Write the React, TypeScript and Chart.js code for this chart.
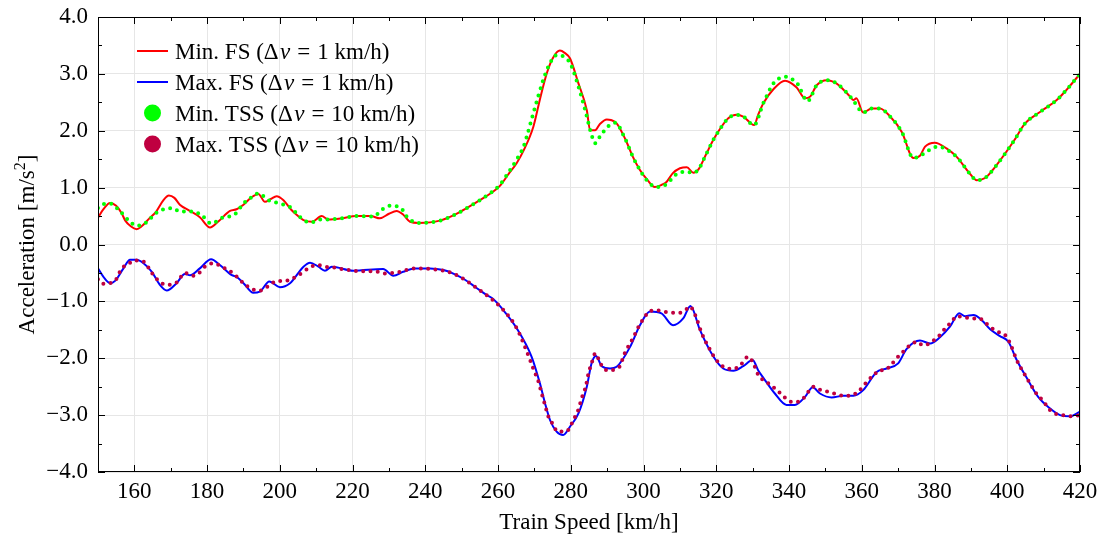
import { useEffect, useRef } from "react";
import { Chart, registerables } from "chart.js";

Chart.register(...registerables);

// Minimum feasible acceleration, fine sampling (Δv = 1 km/h)
const minFsSpeed = [150, 151.5, 153.3, 155, 156.5, 157.5, 159, 160.6, 162, 164, 166, 168, 169.5, 171, 172.5, 175, 178, 180.8, 183, 186.3, 188.1, 190, 192, 194.1, 195.9, 197.5, 199.1, 201, 203, 205, 206.5, 208.8, 211.5, 213.3, 217, 221, 225, 227.5, 230, 232.1, 234, 235.8, 238.1, 244, 248, 251.4, 255, 258, 260.5, 263, 265.1, 267, 269.7, 271.5, 273.4, 275, 277, 278.3, 279.8, 282, 284.4, 285.3, 286.7, 288, 289.9, 291, 292.6, 295, 297, 299, 301, 303.1, 305, 306.3, 308, 310, 311.9, 313.7, 315.1, 317, 319.2, 321, 323.3, 325.6, 327.4, 330.4, 331.5, 332.9, 335.7, 338.9, 342.1, 344.4, 345.8, 347.6, 350.4, 353.1, 356.8, 357.7, 358.5, 360.4, 362.7, 365, 367.8, 371, 374.2, 376, 377.4, 380.1, 383.3, 386.1, 389.8, 391.6, 393.9, 397.1, 401.7, 404.9, 409, 413.6, 416.3, 420];
const minFsAccel = [0.47, 0.62, 0.73, 0.68, 0.55, 0.42, 0.32, 0.27, 0.32, 0.45, 0.58, 0.78, 0.86, 0.82, 0.70, 0.60, 0.48, 0.30, 0.40, 0.59, 0.62, 0.70, 0.82, 0.89, 0.75, 0.80, 0.85, 0.78, 0.62, 0.50, 0.43, 0.40, 0.50, 0.44, 0.46, 0.50, 0.50, 0.46, 0.54, 0.59, 0.52, 0.40, 0.38, 0.42, 0.52, 0.64, 0.78, 0.90, 1.03, 1.25, 1.43, 1.65, 2.07, 2.55, 3.01, 3.27, 3.41, 3.37, 3.27, 2.85, 2.36, 2.01, 2.01, 2.12, 2.20, 2.19, 2.13, 1.85, 1.55, 1.31, 1.14, 1.01, 1.05, 1.10, 1.25, 1.34, 1.36, 1.26, 1.32, 1.56, 1.84, 2.03, 2.22, 2.28, 2.25, 2.10, 2.28, 2.48, 2.73, 2.88, 2.76, 2.57, 2.60, 2.80, 2.89, 2.83, 2.60, 2.54, 2.57, 2.32, 2.39, 2.39, 2.25, 1.98, 1.52, 1.56, 1.72, 1.79, 1.69, 1.54, 1.24, 1.13, 1.17, 1.40, 1.81, 2.13, 2.33, 2.54, 2.72, 3.00];

// Maximum feasible acceleration, fine sampling (Δv = 1 km/h)
const maxFsSpeed = [150, 151.5, 153.3, 154.7, 157, 158.8, 160.6, 162.5, 164.8, 167, 168.9, 171.6, 173.9, 175.3, 178, 181.1, 183.5, 186.8, 188.1, 190, 192.7, 194.5, 197.1, 200, 202.8, 206.5, 208.3, 210.6, 212.4, 214.3, 220.2, 228.4, 231.2, 233.9, 237.2, 241.3, 245, 248, 250.9, 254, 256.9, 258.5, 261, 265.1, 269.2, 271.5, 272.9, 274.3, 276.1, 277.9, 279.8, 282.1, 284.4, 285.7, 286.9, 288.5, 290.8, 292.6, 296.3, 299, 301.8, 304.9, 308.1, 310.9, 312.9, 315.5, 319.2, 321.9, 324.7, 327.4, 330, 331.5, 332.9, 336.1, 339.3, 341.6, 344.4, 346.5, 348.5, 351.7, 354.9, 357.7, 360.4, 364.1, 366.8, 370, 372.3, 376, 378.8, 381.5, 384.3, 386.8, 388.4, 390.7, 393, 395.3, 398, 400.3, 402.6, 405.3, 408.5, 411.7, 414.5, 417.2, 420];
const maxFsAccel = [-0.42, -0.57, -0.68, -0.64, -0.42, -0.27, -0.27, -0.33, -0.48, -0.71, -0.81, -0.68, -0.52, -0.54, -0.42, -0.26, -0.36, -0.54, -0.57, -0.68, -0.85, -0.83, -0.65, -0.75, -0.68, -0.39, -0.32, -0.39, -0.46, -0.39, -0.46, -0.43, -0.55, -0.48, -0.42, -0.42, -0.45, -0.52, -0.62, -0.76, -0.89, -0.95, -1.12, -1.47, -1.97, -2.44, -2.79, -3.09, -3.29, -3.35, -3.20, -2.97, -2.50, -2.09, -1.96, -2.14, -2.18, -2.15, -1.80, -1.42, -1.18, -1.21, -1.42, -1.30, -1.08, -1.50, -1.97, -2.18, -2.22, -2.14, -2.03, -2.21, -2.34, -2.62, -2.82, -2.82, -2.68, -2.51, -2.62, -2.69, -2.66, -2.66, -2.56, -2.24, -2.18, -2.09, -1.84, -1.69, -1.74, -1.63, -1.44, -1.21, -1.26, -1.24, -1.33, -1.49, -1.61, -1.71, -2.03, -2.34, -2.68, -2.88, -3.00, -3.02, -2.94];

// Minimum acceleration, coarse sampling (Δv = 10 km/h)
const minTssSpeed = [150, 151.5, 153.3, 156, 158.8, 160.6, 162.9, 166.1, 168, 170.5, 172.5, 176.2, 178.9, 181.1, 184.5, 187.4, 190, 192, 194.1, 196.8, 200, 202.8, 205, 206.5, 208.8, 211, 213.3, 217, 221, 225.7, 228, 230.3, 233.2, 234.9, 238, 244, 248, 251.4, 255, 258, 260.5, 263, 265, 267, 267.9, 269.7, 272.4, 274, 276.1, 277.9, 279.8, 282, 284, 285.7, 286.7, 288, 290.3, 292.2, 295, 297, 299, 301, 303.6, 306.3, 309.1, 311.9, 313.7, 315.1, 317, 319.2, 321, 323.3, 325.6, 327.4, 330.4, 332.9, 335.7, 337.3, 339.4, 341, 342.3, 345.1, 347.6, 350.4, 353.1, 356.8, 358, 360.4, 362.7, 365, 367.8, 371, 374.2, 377.4, 379.2, 381, 383.3, 386.1, 389.8, 391.6, 393.9, 397.1, 401.7, 404.9, 409, 413.6, 416.3, 420];
const minTssAccel = [0.64, 0.71, 0.72, 0.59, 0.40, 0.33, 0.37, 0.56, 0.62, 0.64, 0.58, 0.58, 0.49, 0.37, 0.48, 0.52, 0.72, 0.82, 0.90, 0.78, 0.72, 0.66, 0.52, 0.43, 0.39, 0.44, 0.44, 0.46, 0.50, 0.49, 0.61, 0.68, 0.65, 0.49, 0.38, 0.42, 0.52, 0.64, 0.78, 0.91, 1.05, 1.28, 1.48, 1.72, 1.90, 2.31, 2.89, 3.15, 3.33, 3.31, 3.19, 2.80, 2.35, 1.93, 1.78, 1.90, 2.08, 2.14, 1.85, 1.55, 1.31, 1.12, 1.01, 1.06, 1.24, 1.28, 1.26, 1.32, 1.56, 1.84, 2.03, 2.22, 2.28, 2.25, 2.10, 2.48, 2.83, 2.92, 2.95, 2.90, 2.83, 2.52, 2.80, 2.89, 2.83, 2.60, 2.50, 2.32, 2.39, 2.39, 2.25, 1.98, 1.52, 1.61, 1.69, 1.72, 1.67, 1.54, 1.24, 1.13, 1.17, 1.40, 1.81, 2.13, 2.33, 2.54, 2.72, 3.00];

// Maximum acceleration, coarse sampling (Δv = 10 km/h)
const maxTssSpeed = [150, 151.3, 153.3, 155, 156.5, 158.1, 160, 162.5, 164.8, 167, 169.1, 171.6, 173.9, 175.8, 177.6, 179.4, 181.7, 184, 185.8, 187.4, 190, 192.5, 194.5, 196.4, 199.3, 201.4, 203.7, 206.5, 208.3, 210.4, 212.4, 214.3, 218, 222.5, 226, 228.9, 233, 237.2, 241.3, 245, 248, 250.9, 254, 257, 261, 265.1, 268.8, 269.9, 271.1, 272, 272.9, 273.8, 275.2, 276.3, 278.1, 279.3, 280.9, 282.1, 283, 284.1, 284.8, 285.7, 286.8, 287.8, 288.9, 290.6, 292.2, 293.4, 294.9, 297, 299, 300.2, 301.6, 303.6, 305.7, 307.7, 309.8, 311.6, 312.7, 314.2, 316, 318.1, 320, 322, 324.7, 326.9, 328.8, 330.4, 331.5, 334.3, 336.5, 339, 340.3, 342.1, 344, 345.3, 346.7, 348.7, 350.8, 353, 355, 357, 358.9, 360.3, 361.8, 363.2, 364.8, 366.3, 368, 369.6, 371, 372.4, 373.8, 375.2, 376.8, 378.6, 380.1, 381.5, 383, 384.7, 386.1, 388.4, 390.5, 392.4, 393.7, 395.5, 397.3, 399.4, 400.8, 402.6, 405.3, 408, 410, 411.7, 413.5, 415.3, 417.6, 420];
const maxTssAccel = [-0.61, -0.69, -0.68, -0.61, -0.42, -0.36, -0.28, -0.30, -0.50, -0.66, -0.71, -0.67, -0.50, -0.55, -0.51, -0.39, -0.33, -0.39, -0.45, -0.52, -0.68, -0.79, -0.81, -0.75, -0.64, -0.64, -0.59, -0.48, -0.40, -0.36, -0.39, -0.40, -0.44, -0.47, -0.47, -0.51, -0.48, -0.42, -0.43, -0.46, -0.52, -0.62, -0.76, -0.90, -1.12, -1.47, -2.03, -2.22, -2.41, -2.62, -2.82, -3.02, -3.17, -3.29, -3.29, -3.26, -3.06, -2.90, -2.70, -2.50, -2.28, -2.09, -1.91, -2.04, -2.17, -2.22, -2.19, -2.15, -1.90, -1.66, -1.40, -1.29, -1.17, -1.16, -1.18, -1.20, -1.20, -1.15, -1.09, -1.24, -1.56, -1.83, -2.03, -2.15, -2.19, -2.10, -1.97, -2.12, -2.29, -2.44, -2.55, -2.70, -2.76, -2.77, -2.70, -2.59, -2.50, -2.56, -2.59, -2.63, -2.66, -2.66, -2.59, -2.50, -2.38, -2.31, -2.21, -2.21, -2.12, -2.00, -1.91, -1.82, -1.75, -1.71, -1.77, -1.74, -1.67, -1.59, -1.47, -1.36, -1.26, -1.28, -1.30, -1.30, -1.36, -1.46, -1.53, -1.59, -1.74, -2.03, -2.34, -2.62, -2.76, -2.91, -2.98, -3.00, -3.02, -3.00];

const xTickValues = [160, 180, 200, 220, 240, 260, 280, 300, 320, 340, 360, 380, 400, 420];
const yTickValues = [-4, -3, -2, -1, 0, 1, 2, 3, 4];

const legendLabels = [
  { name: "Min. FS (", step: "1 km/h)", color: "#ff0000", kind: "line" },
  { name: "Max. FS (", step: "1 km/h)", color: "#0000ff", kind: "line" },
  { name: "Min. TSS (", step: "10 km/h)", color: "#00ff00", kind: "dot" },
  { name: "Max. TSS (", step: "10 km/h)", color: "#bf0040", kind: "dot" },
];

const FONT_FAMILY = '"Liberation Serif", "Times New Roman", "DejaVu Serif", serif';
const FONT_SIZE = 23;

const toPoints = (xs: number[], ys: number[]) => xs.map((x, i) => ({ x, y: ys[i] }));

const axisDecorations = {
  id: "axisDecorations",
  afterDatasetsDraw(chart: any) {
    const { ctx, chartArea: a, scales } = chart;
    const xs = scales.x;
    const ys = scales.y;
    ctx.save();
    ctx.strokeStyle = "#000000";
    ctx.lineWidth = 1;
    ctx.beginPath();
    for (let v = 150; v <= 420; v += 10) {
      const px = Math.round(xs.getPixelForValue(v)) + 0.5;
      const len = v % 20 === 0 ? 7 : 4;
      ctx.moveTo(px, a.bottom);
      ctx.lineTo(px, a.bottom - len);
      ctx.moveTo(px, a.top);
      ctx.lineTo(px, a.top + len);
    }
    for (let v = -4; v <= 4; v += 0.5) {
      const py = Math.round(ys.getPixelForValue(v)) + 0.5;
      const len = Number.isInteger(v) ? 7 : 4;
      ctx.moveTo(a.left, py);
      ctx.lineTo(a.left + len, py);
      ctx.moveTo(a.right, py);
      ctx.lineTo(a.right - len, py);
    }
    ctx.stroke();
    const l = Math.round(a.left) + 0.5;
    const t = Math.round(a.top) + 0.5;
    const r = Math.round(a.right) - 0.5;
    const b = Math.round(a.bottom) - 0.5;
    ctx.strokeRect(l, t, r - l, b - t);

    // axis titles
    const normal = `${FONT_SIZE}px ${FONT_FAMILY}`;
    const small = `${Math.round(FONT_SIZE * 0.7)}px ${FONT_FAMILY}`;
    ctx.fillStyle = "#000000";
    ctx.font = normal;
    ctx.textBaseline = "alphabetic";
    ctx.textAlign = "center";
    ctx.fillText("Train Speed [km/h]", (a.left + a.right) / 2, 529);

    ctx.save();
    ctx.translate(34, (a.top + a.bottom) / 2);
    ctx.rotate(-Math.PI / 2);
    ctx.textAlign = "left";
    const p1 = "Acceleration [m/s";
    const p3 = "]";
    ctx.font = normal;
    const w1 = ctx.measureText(p1).width;
    const w3 = ctx.measureText(p3).width;
    ctx.font = small;
    const w2 = ctx.measureText("2").width;
    const start = -(w1 + w2 + w3) / 2;
    ctx.font = normal;
    ctx.fillText(p1, start, 0);
    ctx.font = small;
    ctx.fillText("2", start + w1, -9);
    ctx.font = normal;
    ctx.fillText(p3, start + w1 + w2, 0);
    ctx.restore();

    // legend
    const rowY = [51, 82, 113, 144];
    legendLabels.forEach((item, i) => {
      const y = rowY[i];
      if (item.kind === "line") {
        ctx.strokeStyle = item.color;
        ctx.lineWidth = 2;
        ctx.beginPath();
        ctx.moveTo(137, y);
        ctx.lineTo(168, y);
        ctx.stroke();
      } else {
        ctx.fillStyle = item.color;
        ctx.beginPath();
        ctx.arc(152.5, y, 8.5, 0, Math.PI * 2);
        ctx.fill();
      }
      ctx.fillStyle = "#000000";
      ctx.textAlign = "left";
      const base = y + 7.5;
      let x = 175;
      const put = (text: string, font: string, gapAfter: number) => {
        ctx.font = font;
        ctx.fillText(text, x, base);
        x += ctx.measureText(text).width + gapAfter;
      };
      put(item.name, normal, 0);
      put("Δ", normal, 1.5);
      put("v", `italic ${FONT_SIZE}px ${FONT_FAMILY}`, 7);
      put("=", normal, 7);
      put(item.step, normal, 0);
    });
    ctx.restore();
  },
};

export default function App() {
  const canvasRef = useRef<HTMLCanvasElement | null>(null);

  useEffect(() => {
    const canvas = canvasRef.current;
    if (!canvas) return;
    const chart = new Chart(canvas, {
      type: "line",
      data: {
        datasets: [
          {
            label: "Min. FS (Δv = 1 km/h)",
            data: toPoints(minFsSpeed, minFsAccel),
            borderColor: "#ff0000",
            borderWidth: 2,
            pointRadius: 0,
            cubicInterpolationMode: "monotone",
            order: 4,
          },
          {
            label: "Max. FS (Δv = 1 km/h)",
            data: toPoints(maxFsSpeed, maxFsAccel),
            borderColor: "#0000ff",
            borderWidth: 2,
            pointRadius: 0,
            cubicInterpolationMode: "monotone",
            order: 3,
          },
          {
            label: "Min. TSS (Δv = 10 km/h)",
            data: toPoints(minTssSpeed, minTssAccel),
            borderColor: "#00ff00",
            borderWidth: 4,
            borderDash: [0, 7.3],
            borderCapStyle: "round",
            pointRadius: 0,
            cubicInterpolationMode: "monotone",
            order: 2,
          },
          {
            label: "Max. TSS (Δv = 10 km/h)",
            data: toPoints(maxTssSpeed, maxTssAccel),
            borderColor: "#bf0040",
            borderWidth: 4,
            borderDash: [0, 7.3],
            borderCapStyle: "round",
            pointRadius: 0,
            cubicInterpolationMode: "monotone",
            order: 1,
          },
        ],
      },
      options: {
        responsive: false,
        animation: false,
        events: [],
        layout: { padding: { left: 0, right: 25, top: 17, bottom: 0 } },
        plugins: {
          legend: { display: false },
          tooltip: { enabled: false },
        },
        scales: {
          x: {
            type: "linear",
            min: 150,
            max: 420,
            afterBuildTicks: (scale: any) => {
              scale.ticks = xTickValues.map((value) => ({ value }));
            },
            afterFit: (scale: any) => {
              scale.height = 71;
              scale.paddingLeft = 0;
              scale.paddingRight = 0;
            },
            grid: { color: "#e6e6e6", lineWidth: 1, drawTicks: false },
            border: { display: false },
            ticks: {
              color: "#000000",
              padding: 6,
              maxRotation: 0,
              autoSkip: false,
              font: { family: FONT_FAMILY, size: FONT_SIZE },
              callback: (v: any) => String(v),
            },
          },
          y: {
            type: "linear",
            min: -4,
            max: 4,
            afterBuildTicks: (scale: any) => {
              scale.ticks = yTickValues.map((value) => ({ value }));
            },
            afterFit: (scale: any) => {
              scale.width = 98;
              scale.paddingTop = 0;
              scale.paddingBottom = 0;
            },
            grid: { color: "#e6e6e6", lineWidth: 1, drawTicks: false },
            border: { display: false },
            ticks: {
              color: "#000000",
              padding: 10,
              autoSkip: false,
              font: { family: FONT_FAMILY, size: FONT_SIZE },
              callback: (v: any) => Number(v).toFixed(1).replace("-", "\u2212"),
            },
          },
        },
      },
      plugins: [axisDecorations],
    });
    return () => chart.destroy();
  }, []);

  return (
    <div style={{ position: "fixed", left: 0, top: 0, width: 1105, height: 543, background: "#ffffff" }}>
      <canvas ref={canvasRef} width={1105} height={543} style={{ display: "block" }} />
    </div>
  );
}
